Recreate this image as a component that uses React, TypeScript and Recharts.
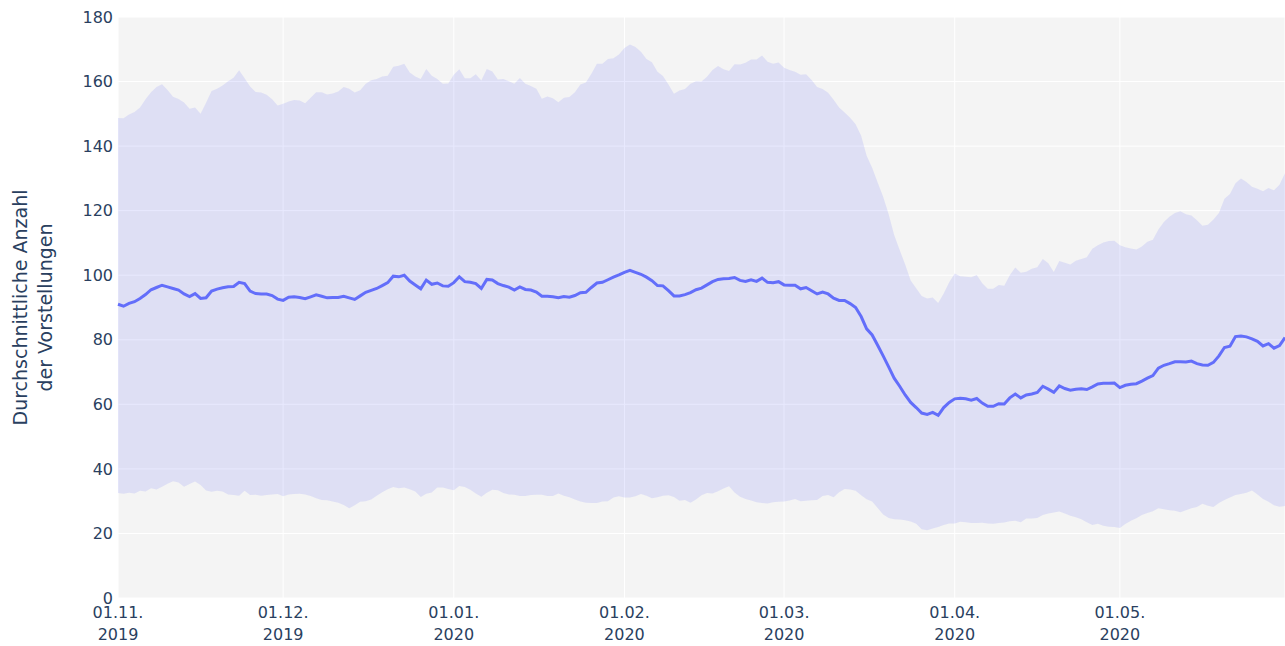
import { Area, CartesianGrid, ComposedChart, Line, XAxis, YAxis } from "recharts";

// Tageswerte 01.11.2019 – 31.05.2020 (213 Tage)
const mittel = [
  91.0, 90.4, 91.3, 91.8, 92.8, 94.0, 95.5, 96.2, 96.9, 96.4,
  95.9, 95.4, 94.2, 93.4, 94.3, 92.8, 93.0, 95.1, 95.7, 96.1,
  96.4, 96.5, 97.8, 97.4, 95.1, 94.3, 94.2, 94.2, 93.7, 92.6,
  92.2, 93.2, 93.3, 93.1, 92.7, 93.3, 93.9, 93.5, 93.0, 93.1,
  93.1, 93.5, 93.0, 92.5, 93.6, 94.7, 95.3, 95.9, 96.8, 97.7,
  99.7, 99.5, 100.0, 98.2, 97.0, 95.8, 98.5, 97.2, 97.6, 96.7,
  96.6, 97.7, 99.5, 98.0, 97.8, 97.4, 95.9, 98.7, 98.5, 97.4,
  96.8, 96.3, 95.4, 96.4, 95.6, 95.4, 94.8, 93.5, 93.5, 93.3,
  93.0, 93.4, 93.2, 93.7, 94.6, 94.7, 96.2, 97.6, 97.8, 98.6,
  99.4, 100.1, 100.9, 101.5, 100.9, 100.3, 99.4, 98.3, 96.8, 96.7,
  95.2, 93.6, 93.6, 94.0, 94.6, 95.5, 96.0, 97.0, 98.0, 98.7,
  98.9, 99.0, 99.3, 98.4, 98.1, 98.6, 98.1, 99.1, 97.8, 97.7,
  98.0, 97.0, 96.9, 96.9, 95.8, 96.2, 95.2, 94.2, 94.8, 94.2,
  92.9, 92.2, 92.2, 91.2, 90.0, 87.2, 83.4, 81.5, 78.3, 75.0,
  71.6, 68.1, 65.6, 62.9, 60.6, 59.0, 57.3, 56.9, 57.5, 56.6,
  59.0, 60.6, 61.7, 61.9, 61.7, 61.3, 61.8, 60.4, 59.4, 59.4,
  60.2, 60.1, 62.0, 63.2, 62.0, 62.9, 63.2, 63.7, 65.6, 64.7,
  63.7, 65.7, 64.9, 64.4, 64.7, 64.8, 64.6, 65.4, 66.3, 66.5,
  66.5, 66.6, 65.2, 65.9, 66.2, 66.4, 67.2, 68.1, 68.9, 71.2,
  72.1, 72.6, 73.2, 73.2, 73.1, 73.4, 72.6, 72.2, 72.1, 73.0,
  75.0, 77.6, 78.0, 81.0, 81.2, 80.9, 80.3, 79.5, 78.1, 78.8,
  77.4, 78.2, 80.7,
];

const oben = [
  148.7, 148.6, 149.8, 150.6, 152.0, 154.5, 156.7, 158.3, 159.2, 157.4,
  155.3, 154.6, 153.5, 151.6, 152.0, 150.0, 153.4, 157.1, 157.8, 158.8,
  160.1, 161.2, 163.5, 161.0, 158.5, 156.8, 156.6, 155.9, 154.5, 152.6,
  153.1, 153.8, 154.3, 154.1, 153.3, 155.0, 156.7, 156.7, 156.0, 156.3,
  156.9, 158.3, 157.8, 156.6, 157.3, 159.3, 160.4, 160.8, 161.6, 161.8,
  164.6, 164.9, 165.5, 162.8, 161.6, 160.8, 163.9, 161.8, 160.8, 159.3,
  159.4, 162.1, 163.8, 161.0, 161.0, 162.3, 160.3, 163.9, 163.1, 160.6,
  160.8, 160.1, 159.3, 161.1, 159.3, 158.6, 157.8, 154.7, 155.4, 154.8,
  153.6, 155.0, 155.2, 156.7, 159.1, 159.7, 162.4, 165.5, 165.5, 167.0,
  167.2, 168.4, 170.4, 171.5, 170.7, 169.2, 167.0, 166.0, 163.0, 161.7,
  159.1, 156.2, 157.2, 157.7, 159.3, 160.1, 160.0, 161.5, 163.6, 164.8,
  163.8, 163.3, 165.4, 165.3, 165.8, 166.8, 166.8, 168.1, 166.1, 165.5,
  165.9, 164.3, 163.6, 163.0, 162.1, 162.3, 160.5, 158.3, 157.7, 156.5,
  154.4, 152.0, 150.4, 148.8, 146.8, 143.2, 137.0, 133.3, 128.7, 124.3,
  118.9, 112.5, 107.8, 103.3, 98.4, 96.0, 93.6, 92.8, 93.1, 91.4,
  94.3, 97.8, 100.5, 99.7, 99.5, 99.4, 100.1, 97.5, 95.8, 95.8,
  97.0, 96.7, 100.0, 102.4, 100.8, 101.1, 102.0, 102.5, 105.0, 103.7,
  101.0, 104.4, 103.9, 103.3, 104.5, 105.0, 105.6, 108.2, 109.3, 110.1,
  110.6, 110.7, 109.3, 108.7, 108.3, 108.0, 108.9, 110.4, 111.0, 114.2,
  116.5, 118.1, 119.3, 119.8, 118.9, 118.5, 117.0, 115.3, 115.6, 117.3,
  119.3, 123.7, 125.2, 128.5, 130.0, 128.9, 127.4, 126.8, 126.0, 127.0,
  126.3, 128.0, 131.6,
];

const unten = [
  32.5, 32.3, 32.6, 32.4, 33.2, 33.0, 34.0, 33.6, 34.5, 35.4,
  36.2, 35.8, 34.5, 35.3, 36.1, 35.0, 33.3, 32.9, 33.2, 33.0,
  32.1, 31.9, 31.7, 33.2, 31.9, 32.0, 31.7, 31.9, 32.1, 32.2,
  31.5, 32.1, 32.2, 32.3, 32.1, 31.6, 30.9, 30.4, 30.3, 29.9,
  29.5, 28.8, 27.8, 28.7, 29.8, 30.0, 30.5, 31.7, 32.8, 33.7,
  34.4, 34.0, 34.2, 33.7, 33.0, 31.3, 32.3, 32.7, 34.2, 34.2,
  33.8, 33.4, 34.7, 34.4, 33.5, 32.4, 31.4, 32.6, 33.5, 33.4,
  32.5, 32.1, 32.0, 31.6, 31.6, 31.9, 32.0, 32.0, 31.6, 31.6,
  32.4, 31.7, 31.2, 30.5, 29.9, 29.5, 29.4, 29.4, 29.9, 30.0,
  31.1, 31.5, 31.1, 31.1, 31.5, 32.2, 31.7, 30.9, 31.2, 31.7,
  31.8, 31.3, 30.1, 30.4, 29.5, 30.5, 31.8, 32.5, 32.4, 33.1,
  33.9, 34.6, 32.7, 31.4, 30.7, 30.2, 29.7, 29.4, 29.3, 29.7,
  29.8, 29.9, 30.2, 30.7, 30.0, 30.1, 30.3, 30.4, 31.6, 31.9,
  31.2, 32.8, 33.8, 33.6, 33.2, 31.8, 30.6, 29.9, 27.9, 25.9,
  24.8, 24.4, 24.3, 24.1, 23.7, 23.0, 21.3, 21.0, 21.5, 22.0,
  22.6, 23.1, 23.1, 23.6, 23.5, 23.2, 23.2, 23.3, 23.1, 23.0,
  23.2, 23.4, 23.8, 23.9, 23.5, 24.6, 24.6, 24.8, 25.7, 26.2,
  26.5, 26.8, 26.2, 25.5, 25.0, 24.4, 23.5, 22.6, 23.0, 22.4,
  22.1, 22.0, 21.7, 22.9, 23.9, 24.7, 25.7, 26.3, 26.9, 27.8,
  27.5, 27.2, 27.0, 26.6, 27.2, 27.8, 28.2, 29.2, 28.6, 28.2,
  29.4, 30.4, 31.1, 31.9, 32.2, 32.6, 33.3, 32.1, 30.7, 29.8,
  28.7, 28.3, 28.5,
];

const monatsTicks = [0, 30, 61, 92, 121, 152, 182];
const monatsLabels = ["01.11.", "01.12.", "01.01.", "01.02.", "01.03.", "01.04.", "01.05."];
const jahrLabels = ["2019", "2019", "2020", "2020", "2020", "2020", "2020"];
const yTicks = [0, 20, 40, 60, 80, 100, 120, 140, 160, 180];

const FONT = "'DejaVu Sans', Verdana, sans-serif";
const TEXT = "#2a3f5f";

const daten = mittel.map((m, i) => ({
  tag: i,
  mittel: m,
  band: [unten[i], oben[i]],
}));

function DatumTick(props: any) {
  const { x, y, payload } = props;
  const idx = monatsTicks.indexOf(payload.value);
  return (
    <text x={x} y={y} textAnchor="middle" fill={TEXT} fontSize={16} fontFamily={FONT}>
      <tspan x={x} dy={20}>{monatsLabels[idx]}</tspan>
      <tspan x={x} dy={22}>{jahrLabels[idx]}</tspan>
    </text>
  );
}

function YTitel(props: any) {
  const { viewBox } = props;
  const cy = viewBox.y + viewBox.height / 2;
  const bx = 27;
  return (
    <text
      x={bx}
      y={cy}
      transform={`rotate(-90, ${bx}, ${cy})`}
      textAnchor="middle"
      fill={TEXT}
      fontSize={19}
      fontFamily={FONT}
    >
      <tspan x={bx}>Durchschnittliche Anzahl</tspan>
      <tspan x={bx} dy={25}>der Vorstellungen</tspan>
    </text>
  );
}

export default function App() {
  return (
    <div style={{ position: "fixed", left: 0, top: 0, background: "#fff" }}>
      <ComposedChart
        width={1285}
        height={646}
        data={daten}
        margin={{ top: 17, right: 0, bottom: 0, left: 0 }}
      >
        <CartesianGrid stroke="#ffffff" strokeWidth={1} fill="#f4f4f4" />
        <XAxis
          dataKey="tag"
          type="number"
          domain={[0, 212]}
          ticks={monatsTicks}
          interval={0}
          axisLine={false}
          tickLine={false}
          tickSize={0}
          tickMargin={0}
          height={48}
          tick={<DatumTick />}
        />
        <YAxis
          type="number"
          domain={[0, 180]}
          ticks={yTicks}
          interval={0}
          width={118}
          axisLine={false}
          tickLine={false}
          tickSize={3}
          tickMargin={2}
          tick={{ fill: TEXT, fontSize: 16, fontFamily: FONT }}
          label={<YTitel />}
        />
        <Area
          type="linear"
          dataKey="band"
          stroke="none"
          fill="#636efa"
          fillOpacity={0.15}
          isAnimationActive={false}
        />
        <Line
          type="linear"
          dataKey="mittel"
          stroke="#636efa"
          strokeWidth={3}
          dot={false}
          isAnimationActive={false}
        />
      </ComposedChart>
    </div>
  );
}
